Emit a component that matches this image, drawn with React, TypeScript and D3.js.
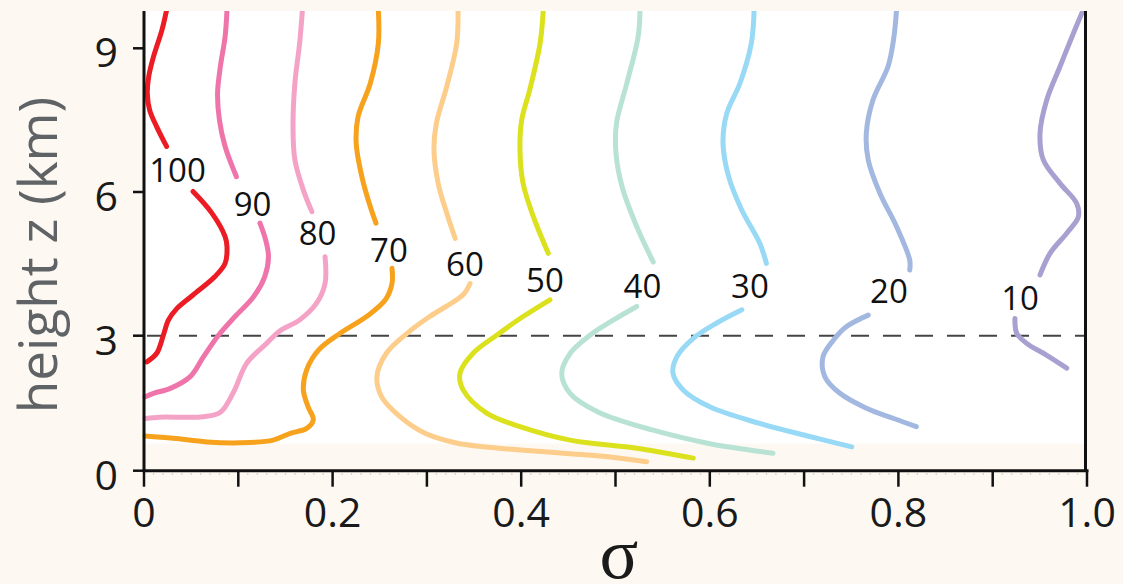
import React from "react";
import * as d3 from "d3";

type Pt = [number, number]; // [sigma, z (km)]

const W = 1123;
const H = 584;

const levels = [100, 90, 80, 70, 60, 50, 40, 30, 20, 10];
const colors = [
  "#ec1c24", "#ef74aa", "#f4a3c7", "#f7a21d", "#fdcd8b",
  "#dbe11c", "#b8e2d4", "#98d9f6", "#a2b8e0", "#a7a0d0",
];

// Each contour is broken by its label: an upper and a lower branch.
const c100Upper: Pt[] = [[0.024, 9.8], [0.019, 9.38], [0.01, 8.82], [0.005, 8.41], [0.0035, 8.06], [0.006, 7.71], [0.0135, 7.36], [0.024, 6.95]];
const c100Lower: Pt[] = [[0.052, 6.01], [0.072, 5.56], [0.086, 5.07], [0.088, 4.86], [0.086, 4.51], [0.075, 4.23], [0.052, 3.85], [0.035, 3.57], [0.026, 3.33], [0.0205, 3.01], [0.0135, 2.61], [0.003, 2.42]];

const c90Upper: Pt[] = [[0.088, 9.8], [0.086, 9.24], [0.081, 8.62], [0.078, 8.06], [0.08, 7.5], [0.086, 6.95], [0.098, 6.32]];
const c90Lower: Pt[] = [[0.123, 5.35], [0.129, 5.0], [0.132, 4.65], [0.128, 4.23], [0.116, 3.81], [0.0965, 3.4], [0.079, 3.01], [0.063, 2.53], [0.049, 2.09], [0.028, 1.83], [0.01, 1.72], [0.001, 1.64]];

const c80Upper: Pt[] = [[0.168, 9.8], [0.165, 9.1], [0.16, 8.27], [0.158, 7.36], [0.16, 6.67], [0.169, 6.04], [0.178, 5.59]];
const c80Lower: Pt[] = [[0.192, 4.65], [0.192, 4.09], [0.183, 3.68], [0.165, 3.33], [0.144, 3.1], [0.13, 2.83], [0.109, 2.39], [0.095, 1.75], [0.081, 1.3], [0.063, 1.2], [0.017, 1.19], [0.001, 1.16]];

const c70Upper: Pt[] = [[0.2485, 9.8], [0.2485, 9.1], [0.24, 8.27], [0.227, 7.57], [0.225, 7.02], [0.231, 6.32], [0.24, 5.69], [0.246, 5.35]];
const c70Lower: Pt[] = [[0.263, 4.41], [0.263, 4.09], [0.256, 3.75], [0.236, 3.4], [0.208, 3.05], [0.185, 2.68], [0.1725, 2.24], [0.169, 1.79], [0.174, 1.42], [0.1795, 1.13], [0.1725, 0.94], [0.155, 0.83], [0.137, 0.68], [0.102, 0.62], [0.0665, 0.64], [0.031, 0.72], [0.001, 0.77]];

const c60Upper: Pt[] = [[0.333, 9.8], [0.3316, 9.1], [0.321, 8.2], [0.31, 7.43], [0.3075, 6.88], [0.312, 6.18], [0.321, 5.56], [0.33, 5.03]];
const c60Lower: Pt[] = [[0.3457, 4.09], [0.34, 3.89], [0.3316, 3.75], [0.303, 3.4], [0.279, 3.05], [0.257, 2.61], [0.247, 2.09], [0.252, 1.64], [0.2715, 1.2], [0.298, 0.83], [0.33, 0.62], [0.36, 0.53], [0.4164, 0.43], [0.4871, 0.32], [0.533, 0.2]];

const c50Upper: Pt[] = [[0.4234, 9.8], [0.42, 9.1], [0.409, 8.13], [0.4005, 7.5], [0.3987, 6.88], [0.402, 6.18], [0.413, 5.48], [0.4287, 4.72]];
const c50Lower: Pt[] = [[0.4305, 3.75], [0.402, 3.4], [0.374, 3.01], [0.349, 2.61], [0.335, 2.16], [0.3386, 1.79], [0.3634, 1.28], [0.3987, 0.98], [0.4518, 0.68], [0.5225, 0.5], [0.5825, 0.28]];

const c40Upper: Pt[] = [[0.526, 9.8], [0.524, 9.24], [0.512, 8.27], [0.501, 7.43], [0.5005, 6.81], [0.507, 6.11], [0.5225, 5.28], [0.54, 4.54]];
const c40Lower: Pt[] = [[0.5225, 3.61], [0.498, 3.33], [0.473, 3.01], [0.452, 2.61], [0.443, 2.16], [0.4518, 1.72], [0.482, 1.3], [0.54, 0.9], [0.6, 0.6], [0.642, 0.46], [0.667, 0.39]];

const c30Upper: Pt[] = [[0.647, 9.8], [0.644, 9.1], [0.632, 8.27], [0.618, 7.64], [0.614, 7.02], [0.62, 6.32], [0.634, 5.62], [0.653, 4.93], [0.66, 4.51]];
const c30Lower: Pt[] = [[0.634, 3.54], [0.607, 3.26], [0.5825, 2.94], [0.565, 2.53], [0.561, 2.16], [0.572, 1.79], [0.6, 1.42], [0.653, 1.05], [0.706, 0.76], [0.7505, 0.53]];

const c20Upper: Pt[] = [[0.798, 9.8], [0.795, 9.2], [0.789, 8.62], [0.773, 7.92], [0.766, 7.23], [0.768, 6.67], [0.7805, 5.97], [0.798, 5.28], [0.812, 4.58], [0.812, 4.37]];
const c20Lower: Pt[] = [[0.768, 3.43], [0.745, 3.19], [0.731, 2.9], [0.72, 2.53], [0.722, 2.09], [0.738, 1.72], [0.766, 1.39], [0.795, 1.16], [0.819, 0.98]];

const c10Upper: Pt[] = [[0.996, 9.8], [0.9855, 9.31], [0.9714, 8.62], [0.9573, 7.92], [0.9502, 7.23], [0.9537, 6.67], [0.9714, 6.18], [0.9891, 5.76], [0.9908, 5.48], [0.9785, 5.14], [0.9608, 4.72], [0.9502, 4.27]];
const c10Lower: Pt[] = [[0.9236, 3.36], [0.9255, 3.05], [0.936, 2.83], [0.957, 2.57], [0.9785, 2.28]];

const upperBranches = [c100Upper, c90Upper, c80Upper, c70Upper, c60Upper, c50Upper, c40Upper, c30Upper, c20Upper, c10Upper];
const lowerBranches = [c100Lower, c90Lower, c80Lower, c70Lower, c60Lower, c50Lower, c40Lower, c30Lower, c20Lower, c10Lower];

// Where each contour's level label sits
const labelPos: Pt[] = [
  [0.0355, 6.48], [0.1151, 5.75], [0.184, 5.15], [0.2598, 4.81], [0.3404, 4.5],
  [0.4252, 4.18], [0.5286, 4.04], [0.6426, 4.04], [0.79, 3.95], [0.929, 3.8],
];

const xTicks = d3.range(0, 11).map((i) => i / 10);
const xTickLabels = ["0", "0.2", "0.4", "0.6", "0.8", "1.0"];
const xLabelValues = [0, 0.2, 0.4, 0.6, 0.8, 1.0];
const xMinorTicks = d3.range(0, 101).map((i) => i / 100);
const yTicks = [0, 3, 6, 9];
const boundaryZ = 3;
const zTop = 9.78;
const zShade = 0.6;

const x = d3.scaleLinear().domain([0, 1]).range([144, 1087]);
const y = d3.scaleLinear().domain([0, 3, 9]).range([470.7, 335.7, 48.3]);

const line = d3
  .line<Pt>()
  .x((d) => x(d[0]))
  .y((d) => y(d[1]))
  .curve(d3.curveCatmullRom.alpha(0.5));

const NUM_FONT = "'Open Sans', 'Noto Sans', sans-serif";

export default function App() {
  const x0 = x(0);
  const x1 = x(1) - 1.5;
  const yTop = y(zTop);
  const yBase = y(0);

  return (
    <svg
      width={W}
      height={H}
      viewBox={`0 0 ${W} ${H}`}
      style={{ position: "absolute", left: 0, top: 0, display: "block" }}
    >
      <defs>
        <clipPath id="plot-top">
          <rect x={0} y={yTop} width={W} height={H - yTop} />
        </clipPath>
      </defs>
      <rect x={0} y={0} width={W} height={H} fill="#fdf9f2" />
      <rect x={x0} y={yTop} width={x1 - x0} height={y(zShade) - yTop} fill="#ffffff" />

      {/* boundary-layer top */}
      <line
        x1={x0 + 3}
        x2={x1}
        y1={y(boundaryZ)}
        y2={y(boundaryZ)}
        stroke="#444"
        strokeWidth={2}
        strokeDasharray="18 14"
      />

      <g clipPath="url(#plot-top)" fill="none" strokeWidth={5} strokeLinecap="round" strokeLinejoin="round">
        {levels.map((lv, i) => (
          <g key={lv} stroke={colors[i]}>
            <path d={line(upperBranches[i]) || ""} />
            <path d={line(lowerBranches[i]) || ""} />
          </g>
        ))}
      </g>

      {levels.map((lv, i) => (
        <text
          key={`lab-${lv}`}
          x={x(labelPos[i][0])}
          y={y(labelPos[i][1])}
          textAnchor="middle"
          dominantBaseline="central"
          fontFamily={NUM_FONT}
          fontSize={33}
          fill="#111"
        >
          {lv}
        </text>
      ))}

      {/* minor tick dots */}
      <g fill="#cfcac2">
        {xMinorTicks.map((t) => (
          <rect key={`m-${t}`} x={x(t) - 0.5} y={yBase + 2.5} width={1.2} height={1.6} />
        ))}
      </g>

      {/* axes */}
      <g stroke="#111" strokeWidth={3} fill="none">
        <line x1={x0} x2={x0} y1={yTop} y2={yBase + 1} />
        <line x1={x1} x2={x1} y1={yTop} y2={yBase + 1} />
        <line x1={x0 - 1.5} x2={x(1) + 1.5} y1={yBase} y2={yBase} />
      </g>
      <g stroke="#111" strokeWidth={2.5}>
        {xTicks.map((t) => (
          <line key={`xt-${t}`} x1={x(t)} x2={x(t)} y1={yBase} y2={yBase + 16} />
        ))}
        {yTicks.map((t) => (
          <line key={`yt-${t}`} x1={x0 - 11} x2={x0} y1={y(t)} y2={y(t)} />
        ))}
      </g>

      {xLabelValues.map((v, i) => (
        <text
          key={`xl-${v}`}
          x={x(v)}
          y={527}
          textAnchor="middle"
          fontFamily={NUM_FONT}
          fontSize={41}
          fill="#1a1a1a"
        >
          {xTickLabels[i]}
        </text>
      ))}
      {yTicks.map((t) => (
        <text
          key={`yl-${t}`}
          x={118}
          y={y(t) + 3}
          textAnchor="end"
          dominantBaseline="central"
          fontFamily={NUM_FONT}
          fontSize={41}
          fill="#1a1a1a"
        >
          {t}
        </text>
      ))}

      <text
        transform={`translate(57, 255) rotate(-90)`}
        textAnchor="middle"
        fontFamily={NUM_FONT}
        fontSize={53}
        fill="#606366"
      >
        height z (km)
      </text>
      <text
        x={619}
        y={578}
        textAnchor="middle"
        fontFamily="'Liberation Serif', 'DejaVu Serif', serif"
        fontSize={72}
        fill="#1a1a1a"
      >
        σ
      </text>
    </svg>
  );
}
